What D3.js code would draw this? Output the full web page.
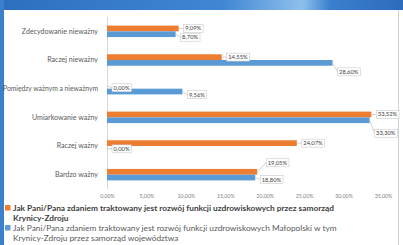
<!DOCTYPE html>
<html>
<head>
<meta charset="utf-8">
<script src="https://cdn.jsdelivr.net/npm/d3@7"></script>
<style>
  body { margin: 0; background: #fff; }
  svg { display: block; font-family: Lato, "Open Sans", sans-serif; }
  .cat { fill: #595959; font-size: 7.1px; }
  .tick { fill: #7f7f7f; font-size: 5.3px; }
  .lbl { fill: #404040; font-size: 5.8px; }
  .leg { font-size: 8.3px; }
</style>
</head>
<body>
<svg id="chart" width="403" height="245"></svg>
<script>
var categories = ["Zdecydowanie nieważny", "Raczej nieważny", "Pomiędzy ważnym a nieważnym",
                  "Umiarkowanie ważny", "Raczej ważny", "Bardzo ważny"];
var krynicaValues = [9.09, 14.55, 0.00, 33.52, 24.07, 19.05];
var malopolskaValues = [8.70, 28.60, 9.56, 33.30, 0.00, 18.80];
var xTicks = [0, 5, 10, 15, 20, 25, 30, 35];
var legendKrynica = ["Jak Pani/Pana zdaniem traktowany jest rozwój funkcji uzdrowiskowych przez samorząd",
                     "Krynicy-Zdroju"];
var legendMalopolska = ["Jak Pani/Pana zdaniem traktowany jest rozwój funkcji uzdrowiskowych Małopolski w tym",
                        "Krynicy-Zdroju przez samorząd województwa"];

// hand nudges of the data labels, like in the original slide
var nudgeKrynica = [[0, 0], [0, 0], [0, 2], [0, 0], [0, 0], [4, -9]];
var nudgeMalopolska = [[0, 3], [0, 9], [0, 3], [0, 13], [0, 0], [0, 2]];

var colors = { krynica: "#ED7D31", malopolska: "#5B9BD5" };

var svg = d3.select("#chart");
var defs = svg.append("defs");
var grad = defs.append("linearGradient").attr("id", "topgrad")
  .attr("x1", 0).attr("x2", 1).attr("y1", 0).attr("y2", 0);
grad.append("stop").attr("offset", "0%").attr("stop-color", "#2d6fbf");
grad.append("stop").attr("offset", "55%").attr("stop-color", "#3f86d3");
grad.append("stop").attr("offset", "75%").attr("stop-color", "#8fc0ec");
grad.append("stop").attr("offset", "82%").attr("stop-color", "#3a7fcc");
grad.append("stop").attr("offset", "100%").attr("stop-color", "#2c6cbc");

// slide background
svg.append("rect").attr("width", 403).attr("height", 10).attr("fill", "url(#topgrad)");
svg.append("rect").attr("x", 0).attr("y", 0).attr("width", 4).attr("height", 245).attr("fill", "#3c7fcb");
svg.append("rect").attr("x", 4).attr("y", 10).attr("width", 394).attr("height", 235)
  .attr("fill", "#fff");
svg.append("line").attr("x1", 398.5).attr("x2", 398.5).attr("y1", 10).attr("y2", 245)
  .attr("stroke", "#d0d0d0");

var x = d3.scaleLinear().domain([0, 35]).range([107, 383]);
var y = d3.scaleBand().domain(categories).range([17, 189]).paddingInner(0.6).paddingOuter(0.3);
var half = y.bandwidth() / 2;

// category labels
svg.selectAll(".cat").data(categories).join("text")
  .attr("class", "cat")
  .attr("x", 98)
  .attr("y", function(d) { return y(d) + y.bandwidth() / 2; })
  .attr("dy", "0.35em")
  .attr("text-anchor", "end")
  .text(function(d) { return d; })
  .each(function() {
    // squeeze the long one so it stays inside the slide
    if (this.getComputedTextLength() > 95) {
      d3.select(this).attr("textLength", 95).attr("lengthAdjust", "spacingAndGlyphs");
    }
  });

// x axis
var xAxis = d3.axisBottom(x).tickValues(xTicks).tickSize(0)
  .tickFormat(function(d) { return d.toFixed(2).replace(".", ",") + "%"; });
var gx = svg.append("g").attr("transform", "translate(0,190)").call(xAxis);
gx.select(".domain").remove();
gx.selectAll("text").attr("class", "tick").attr("fill", null).attr("dy", "0.9em")
  .style("font-family", "Lato, sans-serif");

// y axis line
svg.append("line").attr("x1", 107.5).attr("x2", 107.5).attr("y1", 17).attr("y2", 189)
  .attr("stroke", "#d9d9d9");

var series = [
  { key: "krynica", values: krynicaValues, off: 0, nudge: nudgeKrynica },
  { key: "malopolska", values: malopolskaValues, off: half, nudge: nudgeMalopolska }
];

series.forEach(function(s) {
  svg.append("g").selectAll("rect").data(s.values).join("rect")
    .attr("x", x(0))
    .attr("y", function(d, i) { return y(categories[i]) + s.off; })
    .attr("width", function(d) { return x(d) - x(0); })
    .attr("height", half)
    .attr("fill", colors[s.key]);
});

// data labels
series.forEach(function(s) {
  s.values.forEach(function(v, i) {
    var bx = x(v), by = y(categories[i]) + s.off + half / 2;
    var lx = bx + 5 + s.nudge[i][0], ly = by + s.nudge[i][1];
    var g = svg.append("g");
    var t = g.append("text").attr("class", "lbl")
      .attr("x", lx + 1.5).attr("y", ly).attr("dy", "0.35em")
      .text(v.toFixed(2).replace(".", ",") + "%");
    var bb = t.node().getBBox();
    g.insert("rect", "text")
      .attr("x", bb.x - 1.5).attr("y", ly - 4)
      .attr("width", bb.width + 3).attr("height", 8)
      .attr("fill", "#fff").attr("stroke", "#bfbfbf").attr("stroke-width", 0.5);
    g.insert("line", "rect")
      .attr("x1", bx).attr("y1", by).attr("x2", bb.x - 1.5).attr("y2", ly)
      .attr("stroke", "#a6a6a6").attr("stroke-width", 0.5);
  });
});

// legend
function legendBlock(lines, color, top, bold) {
  svg.append("rect").attr("x", 5).attr("y", top - 3).attr("width", 5.5).attr("height", 5.5)
    .attr("fill", color);
  svg.selectAll(null).data(lines).join("text")
    .attr("class", "leg")
    .attr("x", 13)
    .attr("y", function(d, i) { return top + i * 10; })
    .attr("dy", "0.35em")
    .attr("fill", bold ? "#404040" : "#595959")
    .attr("font-weight", bold ? "bold" : "normal")
    .text(function(d) { return d; });
}
legendBlock(legendKrynica, colors.krynica, 208, true);
legendBlock(legendMalopolska, colors.malopolska, 228, false);
</script>
</body>
</html>
